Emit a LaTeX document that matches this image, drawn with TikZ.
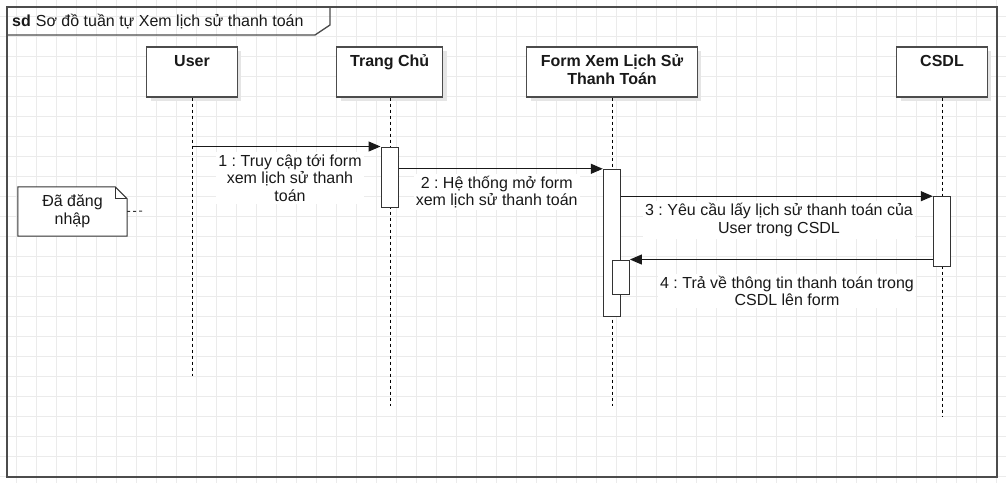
\documentclass[tikz,border=0pt]{standalone}
\usepackage{fontspec}
\setmainfont{Liberation Sans}
\usetikzlibrary{arrows.meta,calc,shadows}
\frenchspacing
\begin{document}
\begin{tikzpicture}[x=1pt,y=-1pt,
  every node/.style={font=\fontsize{16}{17.7}\selectfont, text=black!90},
  actor/.style={draw=black!70, line width=1.2pt, fill=white, inner sep=0pt,
    minimum height=50pt,
    drop shadow={shadow xshift=4pt, shadow yshift=-4pt, fill=black!10, opacity=1}},
  actorname/.style={font=\bfseries\fontsize{16}{17.7}\selectfont, align=center, inner sep=0pt, anchor=base},
  activation/.style={draw=black!80, line width=1pt, fill=white, inner sep=0pt, minimum width=17.4pt},
  lifeline/.style={black, line width=0.9pt, dash pattern=on 3pt off 3pt},
  msg/.style={black!90, line width=1.1pt, -{Triangle[length=12pt,width=10pt]}},
  msglabel/.style={fill=white, align=center, inner sep=2pt},
  gridline/.style={black!8, line width=1pt},
  frameline/.style={draw=black!70, line width=1.3pt}
]
\useasboundingbox (0,0) rectangle (1006,483);
\fill[white] (0,0) rectangle (1006,483);

% background grid
\foreach \gx in {16.7,36.7,...,1006} \draw[gridline] (\gx,0) -- (\gx,483);
\foreach \gy in {16.7,36.7,...,483} \draw[gridline] (0,\gy) -- (1006,\gy);

% sequence diagram frame with its title tab
\draw[frameline] (7,7) rectangle (997,477);
\draw[frameline] (7,35) -- (315,35) -- (330,25) -- (330,7);
\node[anchor=base west, inner sep=0pt] (title) at (12,26)
  {\textbf{sd}\hspace{5pt}Sơ đồ tuần tự Xem lịch sử thanh toán};

% participants
\node[actor, minimum width=90.6pt] (user) at (192,72) {};
\node[actor, minimum width=106pt] (home) at (389.7,72) {};
\node[actor, minimum width=170.6pt] (form) at (612,72) {};
\node[actor, minimum width=90.6pt] (db) at (942,72) {};
\node[actorname] (usert) at ($(user.north)+(0,20)$) {User};
\node[actorname] (homet) at ($(home.north)+(0,20)$) {Trang Chủ};
\node[actorname] (formt) at ($(form.north)+(0,37.7)$) {Form Xem Lịch Sử\\Thanh Toán};
\node[actorname] (dbt) at ($(db.north)+(0,20)$) {CSDL};

% lifeline ends
\coordinate (userend) at (192.7,376);
\coordinate (homeend) at (390,406);
\coordinate (formend) at (612.7,406);
\coordinate (dbend) at (942.7,417);
\draw[lifeline] (user.south -| userend) -- (userend);
\draw[lifeline] (home.south -| homeend) -- (homeend);
\draw[lifeline] (form.south -| formend) -- (formend);
\draw[lifeline] (db.south -| dbend) -- (dbend);

% activation bars
\node[activation, minimum height=60pt] (homeact) at (389.7,177) {};
\node[activation, minimum height=147.4pt] (formact) at (612,243) {};
\node[activation, minimum height=34pt] (formact2) at (620.7,277) {};
\node[activation, minimum height=70pt] (dbact) at (942,231.7) {};

% messages
\draw[msg] (userend |- homeact.north west) -- (homeact.north west);
\draw[msg] (homeact.east |- formact.north) -- (formact.north west);
\draw[msg] (formact.east |- dbact.north) -- (dbact.north west);
\draw[msg] (dbact.west |- formact2.north) -- (formact2.north east);

\node[msglabel] (m1) at (290,178) {1 : Truy cập tới form\\xem lịch sử thanh\\toán};
\node[msglabel] (m2) at (496.7,192) {2 : Hệ thống mở form\\xem lịch sử thanh toán};
\node[msglabel] (m3) at (779,220) {3 : Yêu cầu lấy lịch sử thanh toán của\\User trong CSDL};
\node[msglabel] (m4) at (787,291) {4 : Trả về thông tin thanh toán trong\\CSDL lên form};

% note with folded corner
\node[minimum width=109pt, minimum height=49pt, inner sep=0pt] (note) at (72.5,211.5) {};
\draw[black!80, line width=1pt, fill=white]
  (note.north west) -- ($(note.north east)+(-12,0)$) -- ($(note.north east)+(0,12)$)
  -- (note.south east) -- (note.south west) -- cycle;
\draw[black!80, line width=1pt]
  ($(note.north east)+(-12,0)$) -- ($(note.north east)+(-12,12)$) -- ($(note.north east)+(0,12)$);
\node[inner sep=0pt, align=center] (notetext) at (note.center) {Đã đăng\\nhập};
\coordinate (noteend) at (145,211);
\draw[black!80, line width=1pt, dash pattern=on 3pt off 3pt] (note.east) -- (noteend);
\end{tikzpicture}
\end{document}
